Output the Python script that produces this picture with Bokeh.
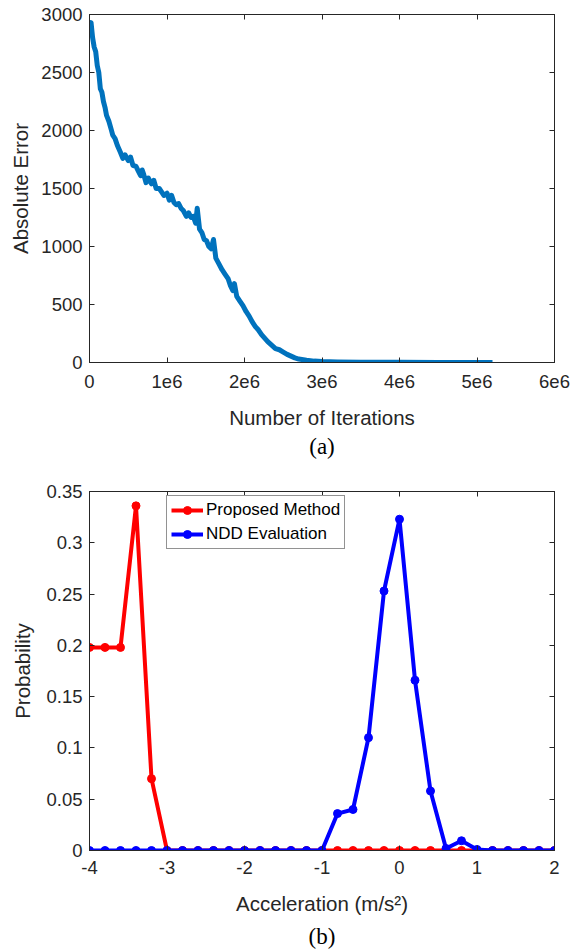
from bokeh.plotting import figure
from bokeh.models import (Range1d, LinearAxis, FixedTicker, Title, Legend, LegendItem,
                          ColumnDataSource, CustomLabelingPolicy)
from bokeh.layouts import column
from bokeh.embed import file_html
from bokeh.resources import INLINE

# ---------------- data: panel (a) ----------------
iterations_millions = [
    0.00, 0.02, 0.04, 0.06, 0.08, 0.10, 0.12, 0.14, 0.16, 0.18, 0.20, 0.22, 0.25, 0.28,
    0.30, 0.33, 0.36, 0.38, 0.40, 0.43, 0.46, 0.50, 0.53, 0.56, 0.60, 0.63, 0.66, 0.68,
    0.70, 0.73, 0.76, 0.80, 0.83, 0.86, 0.90, 0.93, 0.96, 1.00, 1.03, 1.06, 1.09, 1.12,
    1.15, 1.18, 1.21, 1.25, 1.28, 1.31, 1.34, 1.37, 1.39, 1.42, 1.45, 1.48, 1.51, 1.54,
    1.57, 1.60, 1.63, 1.67, 1.71, 1.75, 1.79, 1.82, 1.85, 1.87, 1.90, 1.94, 1.98, 2.02,
    2.06, 2.10, 2.14, 2.18, 2.22, 2.26, 2.30, 2.35, 2.40, 2.45, 2.50, 2.55, 2.60, 2.65,
    2.70, 2.80, 2.90, 3.00, 3.20, 3.50, 4.00, 4.50, 5.20]
absolute_error = [
    2860, 2930, 2800, 2720, 2680, 2560, 2500, 2360, 2330, 2250, 2200, 2130, 2080, 2010,
    1960, 1930, 1870, 1840, 1810, 1760, 1790, 1740, 1770, 1700, 1690, 1650, 1610, 1660,
    1620, 1550, 1590, 1540, 1570, 1500, 1500, 1470, 1440, 1460, 1400, 1440, 1380, 1360,
    1370, 1330, 1310, 1260, 1290, 1250, 1260, 1200, 1330, 1150, 1120, 1060, 1050, 1000,
    980, 1060, 900, 850, 800, 760, 720, 660, 620, 680, 570, 530, 490, 440,
    400, 350, 310, 280, 240, 210, 180, 150, 120, 110, 90, 70, 55, 40,
    30, 20, 12, 8, 5, 3, 2, 1, 1]

a_x_ticks = [0, 1e6, 2e6, 3e6, 4e6, 5e6, 6e6]
a_x_labels = ["0", "1e6", "2e6", "3e6", "4e6", "5e6", "6e6"]
a_y_ticks = [0, 500, 1000, 1500, 2000, 2500, 3000]
a_y_labels = ["0", "500", "1000", "1500", "2000", "2500", "3000"]

# ---------------- data: panel (b) ----------------
acceleration = [-4.0, -3.8, -3.6, -3.4, -3.2, -3.0, -2.8, -2.6, -2.4, -2.2, -2.0, -1.8,
                -1.6, -1.4, -1.2, -1.0, -0.8, -0.6, -0.4, -0.2, 0.0, 0.2, 0.4, 0.6,
                0.8, 1.0, 1.2, 1.4, 1.6, 1.8, 2.0]
proposed_method = [0.198, 0.198, 0.198, 0.336, 0.070, 0.0, 0.0, 0.0, 0.0, 0.0, 0.0, 0.0,
                   0.0, 0.0, 0.0, 0.0, 0.0, 0.0, 0.0, 0.0, 0.0, 0.0, 0.0, 0.0,
                   0.0, 0.0, 0.0, 0.0, 0.0, 0.0, 0.0]
ndd_evaluation = [0.0, 0.0, 0.0, 0.0, 0.0, 0.0, 0.0, 0.0, 0.0, 0.0, 0.0, 0.0,
                  0.0, 0.0, 0.0, 0.0, 0.036, 0.040, 0.110, 0.253, 0.323, 0.166, 0.058, 0.002,
                  0.0095, 0.001, 0.0, 0.0, 0.0, 0.0, 0.0]
series_names = ["Proposed Method", "NDD Evaluation"]

b_x_ticks = [-4, -3, -2, -1, 0, 1, 2]
b_x_labels = ["-4", "-3", "-2", "-1", "0", "1", "2"]
b_y_ticks = [0, 0.05, 0.1, 0.15, 0.2, 0.25, 0.3, 0.35]
b_y_labels = ["0", "0.05", "0.1", "0.15", "0.2", "0.25", "0.3", "0.35"]

AX = "#262626"
FONT = "Liberation Sans"
TICK_FS = "18.5px"
LABEL_FS = "20.5px"


def style_axis(ax, ticks, labels, show_labels=True):
    ax.ticker = FixedTicker(ticks=ticks)
    ax.axis_line_color = AX
    ax.axis_line_width = 1
    ax.major_tick_line_color = AX
    ax.major_tick_in = 5
    ax.major_tick_out = 0
    ax.minor_tick_line_color = None
    if show_labels:
        ax.major_label_overrides = {t: l for t, l in zip(ticks, labels)}
        ax.major_label_text_font = FONT
        ax.major_label_text_font_size = TICK_FS
        ax.major_label_text_color = AX
        ax.axis_label_text_font = FONT
        ax.axis_label_text_font_size = LABEL_FS
        ax.axis_label_text_font_style = "normal"
        ax.axis_label_text_color = AX
    else:
        ax.major_label_text_font_size = "0px"
        ax.major_label_standoff = 0
        ax.major_label_policy = CustomLabelingPolicy(code="return new Set()")


def add_box_axes(p, xt, yt):
    top = LinearAxis()
    style_axis(top, xt, None, show_labels=False)
    p.add_layout(top, "above")
    right = LinearAxis()
    style_axis(right, yt, None, show_labels=False)
    p.add_layout(right, "right")


# ---------------- panel (a) ----------------
p1 = figure(width=577, height=462, x_range=Range1d(0, 6e6), y_range=Range1d(0, 3000),
            output_backend="svg", toolbar_location=None,
            min_border_left=89, min_border_right=23, min_border_top=14, min_border_bottom=100)
p1.xgrid.visible = False
p1.ygrid.visible = False
p1.outline_line_color = AX
src_a = ColumnDataSource(dict(x=[v * 1e6 for v in iterations_millions], y=absolute_error))
p1.line("x", "y", source=src_a, line_color="#0072BD", line_width=5, line_join="round")

style_axis(p1.xaxis[0], a_x_ticks, a_x_labels)
style_axis(p1.yaxis[0], a_y_ticks, a_y_labels)
p1.xaxis[0].axis_label = "Number of Iterations"
p1.yaxis[0].axis_label = "Absolute Error"
p1.xaxis[0].major_label_standoff = 12
p1.xaxis[0].axis_label_standoff = 15
p1.yaxis[0].major_label_standoff = 7
p1.yaxis[0].axis_label_standoff = 6
add_box_axes(p1, a_x_ticks, a_y_ticks)
p1.add_layout(Title(text="(a)", align="center", offset=-11, text_font="Liberation Serif",
                    text_font_size="23px", text_font_style="normal", text_color="black",
                    standoff=0), "below")

# ---------------- panel (b) ----------------
p2 = figure(width=577, height=490, x_range=Range1d(-4, 2), y_range=Range1d(0, 0.35),
            output_backend="svg", toolbar_location=None,
            min_border_left=87, min_border_right=22, min_border_top=29, min_border_bottom=98)
p2.xgrid.visible = False
p2.ygrid.visible = False
p2.outline_line_color = AX
src_b = ColumnDataSource(dict(x=acceleration, red=proposed_method, blue=ndd_evaluation))
r_line = p2.line("x", "red", source=src_b, line_color="#FF0000", line_width=4)
r_pts = p2.scatter("x", "red", source=src_b, size=8, fill_color="#FF0000", line_color="#FF0000")
b_line = p2.line("x", "blue", source=src_b, line_color="#0000FF", line_width=4)
b_pts = p2.scatter("x", "blue", source=src_b, size=8, fill_color="#0000FF", line_color="#0000FF")

style_axis(p2.xaxis[0], b_x_ticks, b_x_labels)
style_axis(p2.yaxis[0], b_y_ticks, b_y_labels)
p2.xaxis[0].axis_label = "Acceleration (m/s²)"
p2.yaxis[0].axis_label = "Probability"
p2.xaxis[0].major_label_standoff = 10
p2.xaxis[0].axis_label_standoff = 15
p2.yaxis[0].major_label_standoff = 7
p2.yaxis[0].axis_label_standoff = 9
add_box_axes(p2, b_x_ticks, b_y_ticks)
p2.add_layout(Title(text="(b)", align="center", offset=-11, text_font="Liberation Serif",
                    text_font_size="23px", text_font_style="normal", text_color="black",
                    standoff=8), "below")

legend = Legend(items=[LegendItem(label=series_names[0], renderers=[r_line, r_pts]),
                       LegendItem(label=series_names[1], renderers=[b_line, b_pts])],
                location=(77, 301), orientation="vertical",
                glyph_width=32, glyph_height=20, label_height=20, label_standoff=3,
                padding=4, spacing=4, margin=0,
                label_text_font=FONT, label_text_font_size="17px", label_text_color="black",
                border_line_color=AX, border_line_width=1, background_fill_color="white",
                background_fill_alpha=1)
p2.add_layout(legend)

layout = column(p1, p2, spacing=0)
open("out.html", "w").write(file_html(layout, INLINE))
